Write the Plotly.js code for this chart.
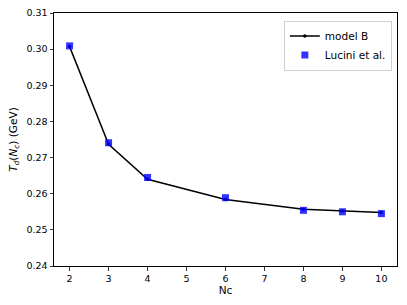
<!DOCTYPE html>
<html><head><meta charset="utf-8">
<script src="https://cdn.plot.ly/plotly-3.0.1.min.js"></script>
<style>html,body{margin:0;padding:0;background:#fff}#c{width:407px;height:305px}</style>
</head><body><div id="c"></div>
<script>
const ncModel = [2, 3, 4, 6, 8, 9, 10];
const tdModel = [0.3007, 0.2737, 0.2640, 0.2584, 0.2557, 0.2552, 0.2548];
const ncLucini = [2, 3, 4, 6, 8, 9, 10];
const tdLucini = [0.3009, 0.2741, 0.2645, 0.2589, 0.2554, 0.2550, 0.2545];
const xTicks = [2, 3, 4, 5, 6, 7, 8, 9, 10];
const yTicks = [0.24, 0.25, 0.26, 0.27, 0.28, 0.29, 0.30, 0.31];

const font = {family: 'DejaVu Sans', size: 9.5, color: '#000'};
const titleFont = {family: 'DejaVu Sans', size: 10.5, color: '#000'};
const traces = [
  {x: ncModel, y: tdModel, mode: 'lines+markers', name: 'model B',
   line: {color: '#000', width: 1.5}, marker: {color: '#000', size: 3.5}},
  {x: ncLucini, y: tdLucini, mode: 'markers', name: 'Lucini et al.',
   marker: {symbol: 'square', color: 'rgba(0,0,255,0.8)', size: 7}}
];
const layout = {
  width: 407, height: 305,
  margin: {l: 54, r: 10, t: 13, b: 39},
  paper_bgcolor: '#fff', plot_bgcolor: '#fff',
  font: font,
  showlegend: true,
  legend: {x: 0.985, y: 0.97, xanchor: 'right', yanchor: 'top',
    bgcolor: 'rgba(255,255,255,0.8)', bordercolor: '#d0d0d0', borderwidth: 1,
    font: {family: 'DejaVu Sans', size: 10.5}, tracegroupgap: 0, itemwidth: 30},
  xaxis: {range: [1.6, 10.4], tickvals: xTicks, ticktext: xTicks.map(String),
    ticks: 'outside', ticklen: 3.5, tickwidth: 0.8, tickcolor: '#000',
    showline: true, linecolor: '#000', linewidth: 1, mirror: true,
    showgrid: false, zeroline: false,
    title: {text: 'Nc', font: titleFont, standoff: 3}},
  yaxis: {range: [0.24, 0.31], tickvals: yTicks, ticktext: yTicks.map(v => v.toFixed(2)),
    ticks: 'outside', ticklen: 3.5, tickwidth: 0.8, tickcolor: '#000',
    showline: true, linecolor: '#000', linewidth: 1, mirror: true,
    showgrid: false, zeroline: false,
    title: {text: '<i>T</i><sub><i>d</i></sub>(<i>N</i><sub><i>c</i></sub>) (GeV)', font: titleFont, standoff: 6}}
};
Plotly.newPlot('c', traces, layout, {displayModeBar: false, staticPlot: true});
</script></body></html>
